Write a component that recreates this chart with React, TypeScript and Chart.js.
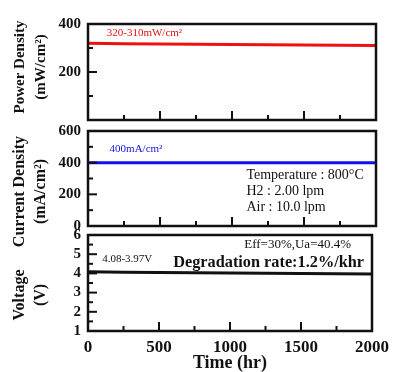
import React, { useEffect, useRef } from "react";
import { Chart, registerables } from "chart.js";

Chart.register(...registerables);

// ---- data ----
const hours = [0, 250, 500, 750, 1000, 1250, 1500, 1750, 2000];
const powerDensity = [320, 318, 317, 316, 315, 314, 312, 311, 310];
const currentDensity = [400, 400, 400, 400, 400, 400, 400, 400, 400];
const voltage = [4.08, 4.06, 4.05, 4.03, 4.02, 4.01, 4.0, 3.98, 3.97];

const xTickLabels = ["0", "500", "1000", "1500", "2000"];
const powerTickLabels = ["200", "400"];
const currentTickLabels = ["0", "200", "400", "600"];
const voltageTickLabels = ["1", "2", "3", "4", "5", "6"];

const powerTitle = ["Power Density", "(mW/cm²)"];
const currentTitle = ["Current Density", "(mA/cm²)"];
const voltageTitle = ["Voltage", "(V)"];

const powerNotes = [{ text: "320-310mW/cm²", x: 130, y: 362, color: "#e01010", size: 11, bold: false }];
const currentNotes = [
  { text: "400mA/cm²", x: 150, y: 486, color: "#1010e0", size: 11, bold: false },
  { text: "Temperature : 800°C", x: 1100, y: 322, color: "#111", size: 14, bold: false },
  { text: "H2 : 2.00 lpm", x: 1100, y: 221, color: "#111", size: 14, bold: false },
  { text: "Air : 10.0 lpm", x: 1100, y: 120, color: "#111", size: 14, bold: false },
];
const voltageNotes = [
  { text: "4.08-3.97V", x: 100, y: 4.75, color: "#111", size: 11, bold: false },
  { text: "Eff=30%,Ua=40.4%", x: 1100, y: 5.48, color: "#111", size: 13, bold: false },
  { text: "Degradation rate:1.2%/khr", x: 600, y: 4.55, color: "#111", size: 16.3, bold: true },
];

const FONT = "'Liberation Serif', 'Times New Roman', serif";
const W = 395;
const H = 372;

const framePlugin = {
  id: "frame",
  afterDraw(chart: any, _args: any, opts: any) {
    const { ctx, chartArea: a, scales } = chart;
    const xs = scales.x;
    const ys = scales.y;
    ctx.save();
    ctx.strokeStyle = "#111";
    ctx.lineWidth = 2;
    xs.ticks.forEach((t: any) => {
      const px = xs.getPixelForValue(t.value);
      if (px <= a.left + 2 || px >= a.right - 2) return;
      const len = t.value % 500 === 0 ? 9 : 5;
      ctx.beginPath();
      ctx.moveTo(px, a.bottom);
      ctx.lineTo(px, a.bottom - len);
      ctx.stroke();
    });
    ys.ticks.forEach((t: any) => {
      const py = ys.getPixelForValue(t.value);
      if (py <= a.top + 2 || py >= a.bottom - 2) return;
      const r = t.value / opts.majorY;
      const len = Math.abs(r - Math.round(r)) < 1e-6 ? 9 : 5;
      ctx.beginPath();
      ctx.moveTo(a.left, py);
      ctx.lineTo(a.left + len, py);
      ctx.stroke();
    });
    ctx.lineWidth = 2.5;
    ctx.strokeRect(a.left, a.top, a.right - a.left, a.bottom - a.top);
    (opts.notes || []).forEach((n: any) => {
      ctx.font = `${n.bold ? "bold " : ""}${n.size}px ${FONT}`;
      ctx.fillStyle = n.color;
      ctx.textAlign = "left";
      ctx.textBaseline = "middle";
      ctx.fillText(n.text, xs.getPixelForValue(n.x), ys.getPixelForValue(n.y));
    });
    // rotated axis title (two lines)
    const cy = (a.top + a.bottom) / 2 + opts.titleShift;
    ctx.fillStyle = "#111";
    ctx.font = `bold ${opts.titleSize}px ${FONT}`;
    ctx.textAlign = "center";
    ctx.textBaseline = "middle";
    opts.title.forEach((line: string, i: number) => {
      ctx.save();
      ctx.translate(i === 0 ? 20 : 41, cy);
      ctx.rotate(-Math.PI / 2);
      ctx.fillText(line, 0, 0);
      ctx.restore();
    });
    ctx.restore();
  },
};

function makeConfig(p: any) {
  return {
    type: "line",
    data: {
      datasets: [
        {
          data: hours.map((h, i) => ({ x: h, y: p.values[i] })),
          borderColor: p.color,
          borderWidth: 3,
          pointRadius: 0,
          tension: 0,
        },
      ],
    },
    plugins: [framePlugin],
    options: {
      responsive: false,
      animation: false,
      layout: { padding: { left: 0, right: W - 376, top: p.top, bottom: p.bottom } },
      plugins: {
        legend: { display: false },
        tooltip: { enabled: false },
        frame: {
          notes: p.notes,
          majorY: p.majorY,
          title: p.title,
          titleSize: p.titleSize,
          titleShift: p.titleShift,
        },
      },
      scales: {
        x: {
          type: "linear",
          min: 0,
          max: 2000,
          grid: { display: false, drawTicks: false },
          border: { display: false },
          ticks: {
            display: p.showX,
            stepSize: 250,
            autoSkip: false,
            maxRotation: 0,
            padding: 6,
            color: "#111",
            font: { family: FONT, size: 17, weight: "bold" },
            callback: (v: any) => (xTickLabels.includes(String(v)) ? String(v) : ""),
          },
          title: p.showX
            ? {
                display: true,
                text: "Time (hr)",
                color: "#111",
                padding: 0,
                font: { family: FONT, size: 18, weight: "bold", lineHeight: 1 },
              }
            : { display: false },
          afterFit: (s: any) => {
            s.height = p.showX ? H - 331 : 0;
          },
        },
        y: {
          min: p.min,
          max: p.max,
          grid: { display: false, drawTicks: false },
          border: { display: false },
          ticks: {
            stepSize: p.step,
            autoSkip: false,
            padding: 7,
            color: "#111",
            font: { family: FONT, size: 15, weight: "bold" },
            callback: (v: any) => (p.labels.includes(String(v)) ? String(v) : ""),
          },
          title: { display: false },
          afterFit: (s: any) => {
            s.width = 88;
          },
        },
      },
    },
  };
}

const panels = [
  {
    values: powerDensity,
    color: "#ee1111",
    min: 0,
    max: 400,
    step: 100,
    majorY: 200,
    labels: powerTickLabels,
    title: powerTitle,
    titleSize: 15,
    titleShift: -5,
    notes: powerNotes,
    top: 24,
    bottom: H - 120,
    showX: false,
  },
  {
    values: currentDensity,
    color: "#1111ee",
    min: 0,
    max: 600,
    step: 100,
    majorY: 200,
    labels: currentTickLabels,
    title: currentTitle,
    titleSize: 16,
    titleShift: 13,
    notes: currentNotes,
    top: 131,
    bottom: H - 226,
    showX: false,
  },
  {
    values: voltage,
    color: "#111111",
    min: 1,
    max: 6,
    step: 0.5,
    majorY: 1,
    labels: voltageTickLabels,
    title: voltageTitle,
    titleSize: 16,
    titleShift: 12,
    notes: voltageNotes,
    top: 235,
    bottom: 0,
    showX: true,
  },
];

function Panel({ p }: { p: any }) {
  const ref = useRef<HTMLCanvasElement>(null);
  useEffect(() => {
    if (!ref.current) return;
    const chart = new Chart(ref.current, makeConfig(p) as any);
    return () => chart.destroy();
  }, [p]);
  return (
    <canvas
      ref={ref}
      width={W}
      height={H}
      style={{ position: "absolute", left: 0, top: 0, width: W, height: H }}
    />
  );
}

export default function App() {
  return (
    <div style={{ position: "fixed", left: 0, top: 0, width: W, height: H, background: "#fff" }}>
      {panels.map((p, i) => (
        <Panel key={i} p={p} />
      ))}
    </div>
  );
}
